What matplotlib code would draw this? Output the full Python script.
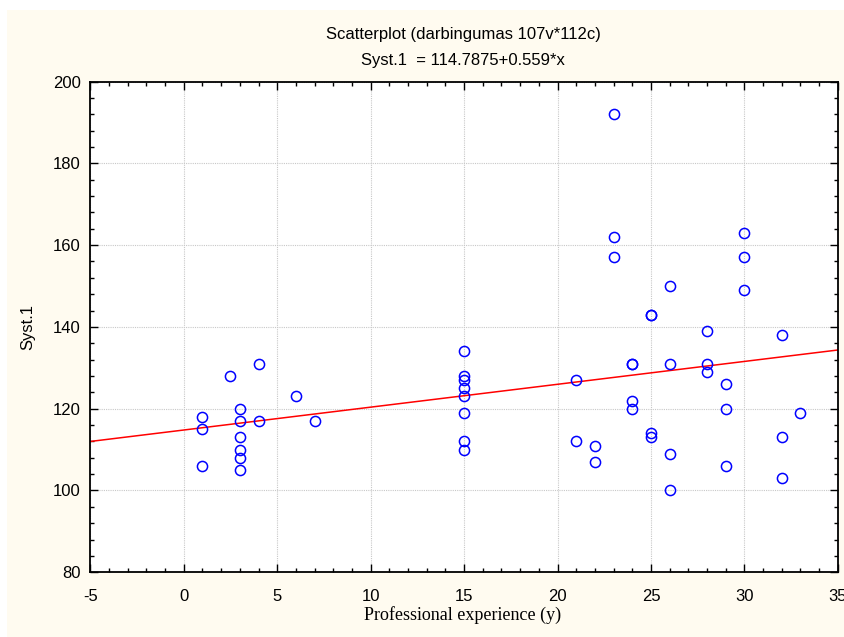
import matplotlib
matplotlib.use("Agg")
from matplotlib import pyplot as plt
from matplotlib.ticker import MultipleLocator
from matplotlib.patches import Rectangle

plt.rcParams["axes.unicode_minus"] = False

# professional experience (years) and Syst.1 values
experience = [1, 1, 1, 2.5, 3, 3, 3, 3, 3, 3, 4, 4, 6, 7,
              15, 15, 15, 15, 15, 15, 15, 15,
              21, 21, 22, 22, 23, 23, 23,
              24, 24, 24, 24, 25, 25, 25, 25,
              26, 26, 26, 26, 28, 28, 28,
              29, 29, 29, 30, 30, 30,
              32, 32, 32, 33]
syst1 = [118, 115, 106, 128, 120, 117, 113, 110, 108, 105, 131, 117, 123, 117,
         134, 128, 127, 125, 123, 119, 112, 110,
         127, 112, 111, 107, 192, 162, 157,
         131, 131, 122, 120, 143, 143, 114, 113,
         150, 131, 109, 100, 139, 131, 129,
         126, 120, 106, 163, 157, 149,
         138, 113, 103, 119]

intercept = 114.7875
slope = 0.559

fig = plt.figure(figsize=(8.45, 6.37), dpi=100)
fig.patch.set_facecolor("white")
fig.patches.append(Rectangle((7 / 845, 0), 1, (637 - 10) / 637,
                             transform=fig.transFigure, facecolor="#fffbf0",
                             edgecolor="none", zorder=-10))

ax = fig.add_axes([0.1069, 0.1016, 0.8846, 0.7704])
ax.set_facecolor("white")

ax.set_xlim(-5, 35)
ax.set_ylim(80, 200)

xs = [-5, 35]
ax.plot(xs, [intercept + slope * x for x in xs], color="red", lw=1.1, zorder=2)
ax.plot(experience, syst1, "o", mfc="none", mec="#0000ff", mew=1.1, ms=7.3,
        zorder=3, clip_on=False)

ax.xaxis.set_major_locator(MultipleLocator(5))
ax.xaxis.set_minor_locator(MultipleLocator(1))
ax.yaxis.set_major_locator(MultipleLocator(20))
ax.yaxis.set_minor_locator(MultipleLocator(4))
ax.tick_params(which="both", direction="in", top=True, right=True, color="black")
ax.tick_params(which="major", length=6, width=1)
ax.tick_params(which="minor", length=3, width=1)
ax.tick_params(labelsize=12)
ax.tick_params(axis="x", pad=12)
ax.tick_params(axis="y", pad=7)
for lab in ax.get_xticklabels() + ax.get_yticklabels():
    lab.set_family("Liberation Sans")

for s in ax.spines.values():
    s.set_linewidth(1.3)

ax.grid(True, which="major", color="#c8c8c8", linestyle=(0, (1, 1)), lw=0.8)
ax.set_axisbelow(True)

fig.text(0.548, 1 - 34 / 637, "Scatterplot (darbingumas 107v*112c)",
         ha="center", va="center", fontsize=12, family="Liberation Sans")
fig.text(0.548, 1 - 60 / 637, "Syst.1  = 114.7875+0.559*x",
         ha="center", va="center", fontsize=12, family="Liberation Sans")
fig.text(28 / 845, 1 - 327 / 637, "Syst.1", rotation=90, ha="center",
         va="center", fontsize=12, family="Liberation Sans")
fig.text(463 / 845, 1 - 615 / 637, "Professional experience (y)", ha="center",
         va="center", fontsize=13, family="Liberation Serif")

plt.savefig("out.png", dpi=100)
